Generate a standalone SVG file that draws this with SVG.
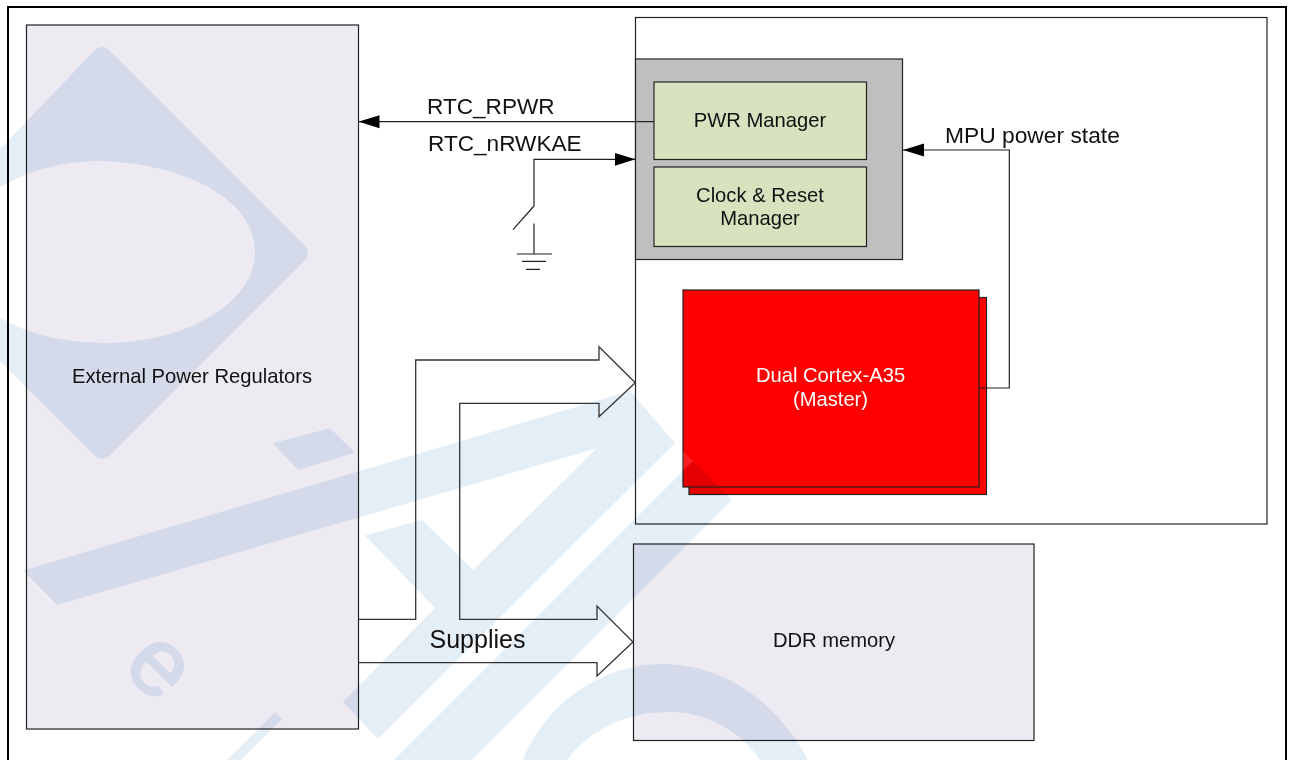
<svg xmlns="http://www.w3.org/2000/svg" width="1290" height="760" viewBox="0 0 1290 760">
<style>
.box{stroke:#222;stroke-width:1.2}
.pale{fill:#edeaf2}
.green{fill:#d7e3bf}
.wire{fill:none;stroke:#222;stroke-width:1.2}
.pipe{fill:none;stroke:#333;stroke-width:1.3;stroke-linejoin:miter}
text{font-family:"Liberation Sans",Arial,sans-serif;fill:#111;font-size:20.2px}
.mid{text-anchor:middle}
.big{font-size:22.6px}
.wm{fill:#e4eef7}
</style>
<defs>
<marker id="head" markerUnits="userSpaceOnUse" markerWidth="21" markerHeight="14" refX="21" refY="7" orient="auto"><path d="M0,0.5L21,7L0,13.5Z" fill="#000"/></marker>
</defs>
<rect width="1290" height="760" fill="#fff"/>
<rect id="frame" x="8" y="7" width="1278" height="790" fill="none" stroke="#000" stroke-width="2"/>

<g id="external-regulators">
<rect class="box pale" x="26.5" y="25" width="332" height="704"/>
<text class="mid" x="192" y="383">External Power Regulators</text>
</g>
<g id="mpu-domain">
<rect class="box" x="635.5" y="17.5" width="631.5" height="506.5" fill="#fff"/>
</g>
<g id="rcc-block">
<rect class="box" x="635.5" y="59" width="267" height="200.5" fill="#bfbfbf"/>
</g>
<g id="pwr-manager">
<rect class="box green" x="654" y="82" width="212.5" height="77.5"/>
<text class="mid" x="760" y="127">PWR Manager</text>
</g>
<g id="clock-reset-manager">
<rect class="box green" x="654" y="167" width="212.5" height="79.5"/>
<text class="mid" x="760" y="201.500">Clock &amp; Reset</text>
<text class="mid" x="760" y="225">Manager</text>
</g>
<g id="cortex-a35">
<rect class="box" x="689" y="297.500" width="297.500" height="197" fill="#f00"/>
<rect class="box" x="683" y="290" width="296" height="197" fill="#f00"/>
<path d="M683,451L693,461L683,471Z" fill="#fff" fill-opacity="0.12"/>
<text class="mid" x="830.500" y="381.500" style="fill:#fff">Dual Cortex-A35</text>
<text class="mid" x="830.500" y="406" style="fill:#fff">(Master)</text>
</g>
<g id="ddr-memory">
<rect class="box pale" x="633.500" y="544" width="400.500" height="196.500"/>
<text class="mid" x="834" y="646.500">DDR memory</text>
</g>

<g id="watermark" style="mix-blend-mode:multiply">
<path class="wm" fill-rule="evenodd" d="M0,149L95,50Q102,44 109,50L305,246Q311,253 305,260L109,456Q102,462 95,456L0,361ZM0,187C30,170 65,161 95,161C165,161 255,190 255,253C255,300 190,343 105,343C65,343 30,335 0,318Z"/>
<path class="wm" d="M272.700,443.300L330,428.300L355,452.700L298,470Z"/>
<path class="wm" d="M23,570.500L630,391L675,443L378,739L343,702L435,608L365,535.500L421.700,520L473.300,570L596.700,448.300L57,605Z"/>
<path class="wm" d="M693,461L732,500L472,760L394,760Z"/>
<path class="wm" d="M275,712.500L282,719L241,760L227,760Z"/>
<path class="wm" d="M523,760C545,705 600,664 663,664C730,664 782,710 808,760L760,760C740,730 705,712 670,712C625,712 590,730 567,760Z"/>
<text transform="translate(157,669) rotate(45)" x="0" y="25" class="mid" style="font-size:96px;fill:#e4eef7;stroke:#e4eef7;stroke-width:2">e</text>
</g>

<g id="connectors">
<path class="wire" d="M654,121.700H358.500" marker-end="url(#head)"/>
<path class="wire" d="M534,206V159.300H635.500" marker-end="url(#head)"/>
<path class="wire" d="M534,206L513,229.700"/>
<path class="wire" d="M534,223.500V254M516.700,254H552M522,261.300H546M526,269.300H540"/>
<path class="wire" d="M979,388H1009.300V150H903" marker-end="url(#head)"/>
<path class="pipe" d="M358.500,619.300H415.700V360H599V346.700L635.300,382.700L599,416.700V403.300H459.700V619.300H597V606L633,642L597,676V662.700H358.500"/>
</g>
<g id="labels">
<text class="big" x="427" y="113.500">RTC_RPWR</text>
<text class="big" x="428" y="151">RTC_nRWKAE</text>
<text class="big" x="945" y="142.500" style="font-size:22.8px">MPU power state</text>
<text x="429.500" y="648" style="font-size:25px">Supplies</text>
</g>
</svg>
